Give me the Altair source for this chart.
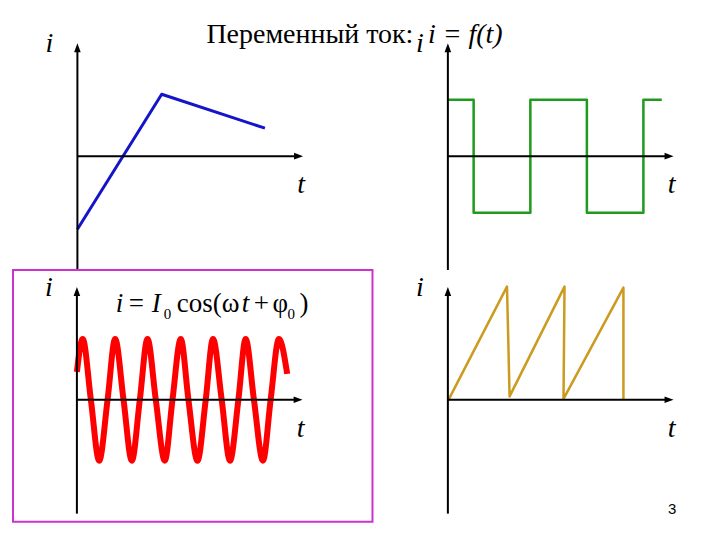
import altair as alt
import pandas as pd

# ---------------- data (t and i in plot units) ----------------
LINEAR_T = [0.0, 4.22, 9.39]
LINEAR_I = [-3.66, 3.10, 1.40]

SQUARE_T = [0.0, 1.29, 4.13, 6.96, 9.79, 10.71]
SQUARE_I = [2.83, -2.83, 2.83, -2.83, 2.83, 2.83]

COS_T = [0.0, 0.29, 0.70, 1.115, 1.535, 1.915, 2.335, 2.75, 3.15, 3.535, 3.95, 4.40, 4.785,
         5.20, 5.585, 6.035, 6.45, 6.815, 7.25, 7.665, 8.085, 8.45, 8.865, 9.315, 9.70, 10.115, 10.53]
COS_I = [1.4, 3.05, 0, -3.05, 0, 3.05, 0, -3.05, 0, 3.05, 0, -3.05, 0, 3.05, 0, -3.05, 0,
         3.05, 0, -3.05, 0, 3.05, 0, -3.05, 0, 3.05, 1.3]

SAW_T = [0.03, 2.96, 3.09, 5.84, 5.79, 8.79, 8.79]
SAW_I = [0.0, 5.67, 0.17, 5.67, 0.05, 5.62, 0.0]

TITLE_MAIN = "Переменный ток:"
TITLE_FORMULA = "i = f(t)"
AXIS_I_LABEL = "i"
AXIS_T_LABEL = "t"
PAGE_NUMBER = "3"

# formula i = I0 cos(ωt + φ0), split into italic / upright pieces
F_ITALIC = ["i", "I", "t"]
F_UPRIGHT = ["=", "0", "cos(ω", "+", "φ", "0", ")"]

# ---------------- layout ----------------
PX = 20.0          # pixels per plot unit
T_END = 11.3       # arrow tip of the t axis
I_TOP = 5.65       # arrow tip of the i axis
I_BOTTOM = -5.7
SERIF = "Liberation Serif"

F_ITALIC_POS = [(1.95, 4.4), (3.75, 4.4), (8.25, 4.4)]
F_UPRIGHT_POS = [(2.6, 4.4, 27), (4.35, 4.05, 15), (5.0, 4.4, 27), (8.85, 4.4, 27),
                 (9.8, 4.4, 27), (10.55, 4.05, 15), (11.15, 4.4, 27)]


def scales(L, T, W, H, ox, oy):
    xs = alt.Scale(domain=[(L - ox) / PX, (L + W - ox) / PX], nice=False, zero=False)
    ys = alt.Scale(domain=[(oy - (T + H)) / PX, (oy - T) / PX], nice=False, zero=False)
    return xs, ys


def enc(xs, ys):
    return dict(x=alt.X("t:Q", scale=xs, axis=None), y=alt.Y("i:Q", scale=ys, axis=None))


def axes(xs, ys):
    xa = alt.Chart(pd.DataFrame({"t": [0.0], "t2": [T_END - 0.25], "i": [0.0]})).mark_rule(
        color="black", strokeWidth=2).encode(x2="t2:Q", **enc(xs, ys))
    ya = alt.Chart(pd.DataFrame({"t": [0.0], "i": [I_BOTTOM], "i2": [I_TOP - 0.25]})).mark_rule(
        color="black", strokeWidth=2).encode(y2="i2:Q", **enc(xs, ys))
    ar = alt.Chart(pd.DataFrame({"t": [T_END], "i": [0.0]})).mark_point(
        shape="M0,0L-3,-1.1L-3,1.1Z", filled=True, size=36, color="black", opacity=1,
        strokeWidth=0).encode(**enc(xs, ys))
    au = alt.Chart(pd.DataFrame({"t": [0.0], "i": [I_TOP]})).mark_point(
        shape="M0,0L-1.1,3L1.1,3Z", filled=True, size=36, color="black", opacity=1,
        strokeWidth=0).encode(**enc(xs, ys))
    lab = alt.Chart(pd.DataFrame({"t": [-1.4, 11.2], "i": [5.2, -1.85],
                                  "s": [AXIS_I_LABEL, AXIS_T_LABEL]})).mark_text(
        font=SERIF, fontStyle="italic", fontSize=28, align="center", baseline="alphabetic",
        color="black").encode(text="s:N", **enc(xs, ys))
    return [xa, ya, ar, au, lab]


def line(ts, is_, xs, ys, color, width, interp="linear"):
    df = pd.DataFrame({"t": ts, "i": is_, "k": range(len(ts))})
    return alt.Chart(df).mark_line(color=color, strokeWidth=width, interpolate=interp,
                                   strokeJoin="round").encode(
        order="k:Q", **enc(xs, ys))


# ---- panel 1: linear ----
xs1, ys1 = scales(12, 8, 360, 262, 76.5, 156)
title_main = alt.Chart(pd.DataFrame({"t": [16.82], "i": [5.65], "s": [TITLE_MAIN]})).mark_text(
    font=SERIF, fontSize=28, align="right", baseline="alphabetic", color="black").encode(
    text="s:N", **enc(xs1, ys1))
title_f = alt.Chart(pd.DataFrame({"t": [17.55], "i": [5.65], "s": [TITLE_FORMULA]})).mark_text(
    font=SERIF, fontSize=28, fontStyle="italic", align="left", baseline="alphabetic",
    color="black").encode(text="s:N", **enc(xs1, ys1))
p1 = alt.layer(line(LINEAR_T, LINEAR_I, xs1, ys1, "#1414C8", 3), *axes(xs1, ys1),
               title_main, title_f).properties(width=360, height=262)

# ---- panel 2: square wave ----
xs2, ys2 = scales(372, 8, 340, 262, 447.5, 156)
p2 = alt.layer(line(SQUARE_T, SQUARE_I, xs2, ys2, "#1E9A1E", 2.5, "step-after"),
               *axes(xs2, ys2)).properties(width=340, height=262)

# ---- panel 3: cosine, framed ----
xs3, ys3 = scales(12, 270, 360, 252, 76, 400)
f_it = alt.Chart(pd.DataFrame({"t": [p[0] for p in F_ITALIC_POS], "i": [p[1] for p in F_ITALIC_POS],
                               "s": F_ITALIC})).mark_text(
    font=SERIF, fontStyle="italic", fontSize=27, align="left", baseline="alphabetic",
    color="black").encode(text="s:N", **enc(xs3, ys3))
f_up = alt.Chart(pd.DataFrame({"t": [p[0] for p in F_UPRIGHT_POS], "i": [p[1] for p in F_UPRIGHT_POS],
                               "fs": [p[2] for p in F_UPRIGHT_POS], "s": F_UPRIGHT})).mark_text(
    font=SERIF, align="left", baseline="alphabetic", color="black").encode(
    text="s:N", size=alt.Size("fs:Q", scale=None, legend=None), **enc(xs3, ys3))
p3 = alt.layer(line(COS_T, COS_I, xs3, ys3, "#FF0000", 6, "monotone"), *axes(xs3, ys3),
               f_it, f_up).properties(
    width=360, height=252, view=alt.ViewBackground(stroke="#CC33CC", strokeWidth=2))

# ---- panel 4: sawtooth ----
xs4, ys4 = scales(372, 270, 340, 252, 447.5, 400)
page = alt.Chart(pd.DataFrame({"t": [11.225], "i": [-5.7], "s": [PAGE_NUMBER]})).mark_text(
    font="Liberation Sans", fontSize=15, align="center", baseline="alphabetic",
    color="black").encode(text="s:N", **enc(xs4, ys4))
p4 = alt.layer(line(SAW_T, SAW_I, xs4, ys4, "#CC9A1E", 2.5), *axes(xs4, ys4), page).properties(
    width=340, height=252)

chart = alt.concat(p1, p2, p3, p4, columns=2, spacing=0, bounds="flush").properties(
    padding={"left": 4, "top": 0, "right": 0, "bottom": 0}, background="white"
).configure_view(stroke="transparent", strokeWidth=0)

chart.save("out.html", embed_options={"renderer": "svg", "actions": False})
